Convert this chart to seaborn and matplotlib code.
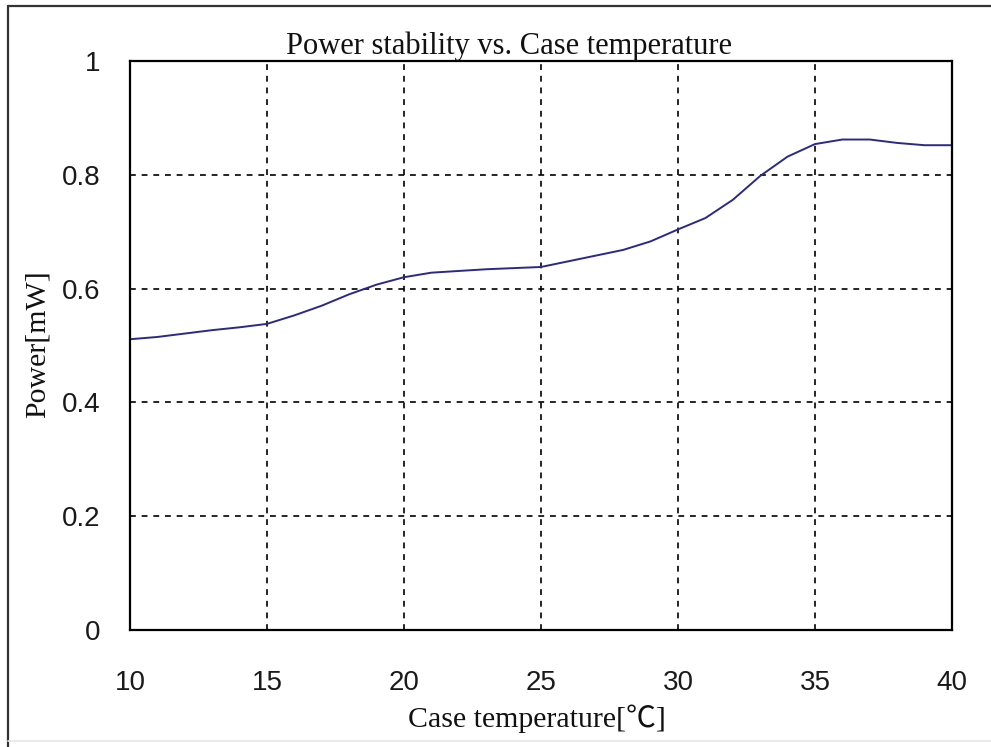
import matplotlib
matplotlib.use("Agg")
import matplotlib.pyplot as plt
import seaborn as sns
import pandas as pd
from matplotlib.lines import Line2D

temperature = [10, 11, 12, 13, 14, 15, 16, 17, 18, 19, 20, 21, 22, 23, 24, 25,
               26, 27, 28, 29, 30, 31, 32, 33, 34, 35, 36, 37, 38, 39, 40]
power = [0.511, 0.515, 0.521, 0.527, 0.532, 0.538, 0.553, 0.570, 0.590, 0.607,
         0.620, 0.628, 0.631, 0.634, 0.636, 0.638, 0.648, 0.658, 0.668, 0.683,
         0.704, 0.724, 0.756, 0.798, 0.832, 0.854, 0.862, 0.862, 0.856, 0.852, 0.852]
x_ticks = [10, 15, 20, 25, 30, 35, 40]
y_ticks = [0, 0.2, 0.4, 0.6, 0.8, 1.0]
y_tick_labels = ["0", "0.2", "0.4", "0.6", "0.8", "1"]

title = "Power stability vs. Case temperature"
xlabel = "Case temperature[℃]"
ylabel = "Power[mW]"

sns.set_style("white")
plt.rcParams['font.family'] = ['Liberation Serif', 'Noto Sans CJK TC', 'DejaVu Sans']

df = pd.DataFrame({"temp": temperature, "power": power})

W, H = 991, 747
fig = plt.figure(figsize=(W / 100, H / 100), dpi=100)
ax = fig.add_axes([130 / W, 1 - 630 / H, 822 / W, 569 / H])

sns.lineplot(data=df, x="temp", y="power", ax=ax, color="#2a2a86", linewidth=1.4)

ax.set_xlim(10, 40)
ax.set_ylim(0, 1)
ax.set_xticks(x_ticks)
ax.set_yticks(y_ticks)
ax.set_yticklabels(y_tick_labels)
ax.grid(True, color="black", linestyle=(0, (3.5, 3.5)), linewidth=1.2)
ax.tick_params(axis="both", length=0, labelsize=20, colors="#1a1a1a")
ax.tick_params(axis="x", pad=29)
ax.tick_params(axis="y", pad=21)
for lab in ax.get_xticklabels() + ax.get_yticklabels():
    lab.set_family(['Liberation Sans', 'DejaVu Sans'])
for s in ax.spines.values():
    s.set_visible(True)
    s.set_color("black")
    s.set_linewidth(1.6)

ax.set_xlabel("")
ax.set_ylabel("")
fig.text(509 / W, 1 - 46 / H, title, ha="center", va="center", fontsize=22, color="#111111")
fig.text(537 / W, 1 - 719 / H, xlabel, ha="center", va="center", fontsize=21.5, color="#111111")
fig.text(38 / W, 1 - 344 / H, ylabel, ha="center", va="center", rotation=90, fontsize=21.5, color="#111111")

# outer frame
fig.add_artist(Line2D([8 / W, 8 / W], [0, 1 - 6 / H], transform=fig.transFigure, color="#333333", linewidth=1.6))
fig.add_artist(Line2D([8 / W, 1], [1 - 6 / H, 1 - 6 / H], transform=fig.transFigure, color="#333333", linewidth=1.6))
fig.add_artist(Line2D([8 / W, 1], [1 - 741 / H, 1 - 741 / H], transform=fig.transFigure, color="#e6e6e6", linewidth=1.2))

fig.savefig("out.png", dpi=100)
